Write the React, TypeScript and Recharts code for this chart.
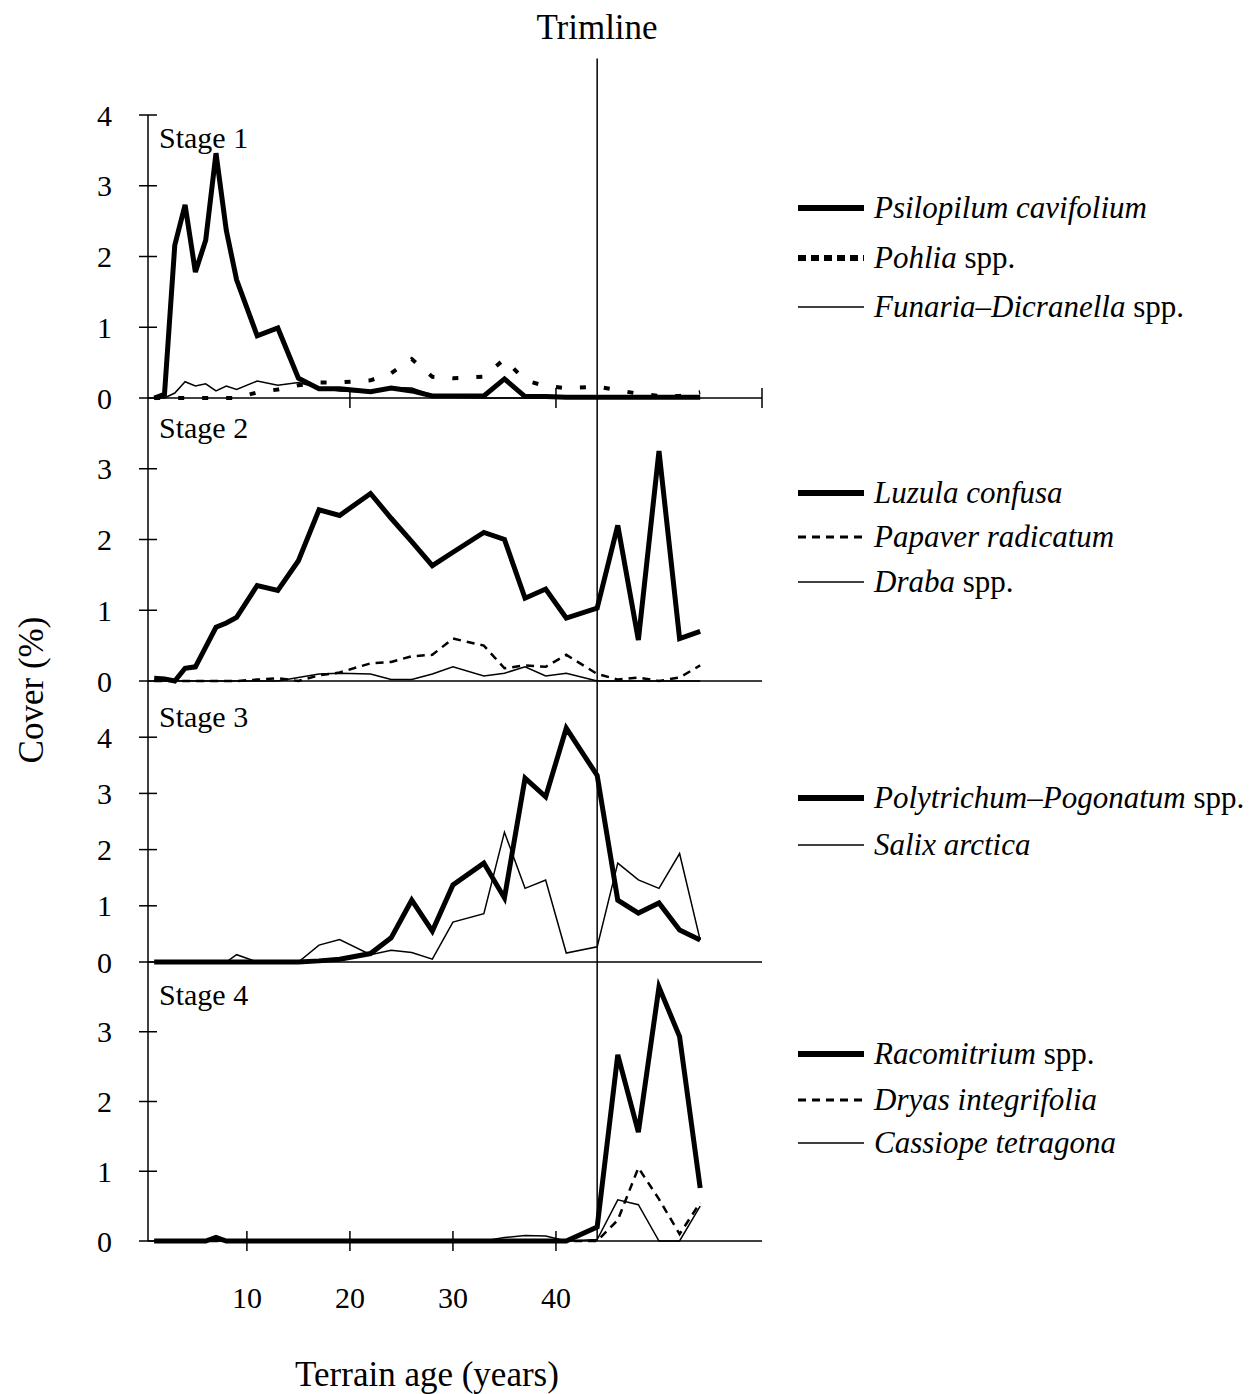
import React from "react";
import { LineChart, Line, XAxis, YAxis, ReferenceLine } from "recharts";

// terrain age of each sampled plot (years)
const ages = [1, 2, 3, 4, 5, 6, 7, 8, 9, 11, 13, 15, 17, 19, 22, 24, 26, 28, 30, 33, 35, 37, 39, 41, 44, 46, 48, 50, 52, 54];

// Stage 1
const psilopilum = [0, 0.05, 2.16, 2.73, 1.78, 2.23, 3.46, 2.37, 1.67, 0.88, 0.99, 0.28, 0.13, 0.13, 0.09, 0.14, 0.1, 0.03, 0.03, 0.03, 0.27, 0.02, 0.02, 0.01, 0.01, 0.01, 0.01, 0.01, 0.01, 0.01];
const pohlia = [0, 0, 0, 0, 0, 0, 0, 0, 0, 0.08, 0.12, 0.18, 0.22, 0.22, 0.25, 0.35, 0.55, 0.3, 0.28, 0.3, 0.55, 0.25, 0.17, 0.14, 0.16, 0.11, 0.06, 0.03, 0.03, 0.08];
const funaria = [0, 0, 0.07, 0.23, 0.17, 0.2, 0.1, 0.17, 0.12, 0.24, 0.18, 0.22, 0.14, 0.1, 0.08, 0.15, 0.14, 0.04, 0.01, 0, 0, 0, 0, 0, 0, 0, 0, 0, 0, 0];

// Stage 2
const luzula = [0.04, 0.03, 0, 0.18, 0.2, 0.48, 0.76, 0.82, 0.9, 1.35, 1.28, 1.7, 2.42, 2.34, 2.65, 2.3, 1.97, 1.63, 1.82, 2.1, 2.0, 1.17, 1.3, 0.89, 1.03, 2.2, 0.58, 3.25, 0.6, 0.7];
const papaver = [0, 0, 0, 0, 0, 0, 0, 0, 0, 0.02, 0.04, 0, 0.08, 0.12, 0.25, 0.27, 0.35, 0.37, 0.6, 0.5, 0.18, 0.22, 0.2, 0.37, 0.1, 0.02, 0.05, 0, 0.05, 0.22];
const draba = [0, 0, 0, 0, 0, 0, 0, 0, 0, 0, 0, 0.05, 0.1, 0.11, 0.1, 0.02, 0.02, 0.1, 0.2, 0.07, 0.11, 0.2, 0.07, 0.11, 0, 0, 0, 0, 0, 0];

// Stage 3
const polytrichum = [0, 0, 0, 0, 0, 0, 0, 0, 0, 0, 0, 0, 0.02, 0.05, 0.15, 0.43, 1.1, 0.55, 1.37, 1.76, 1.14, 3.27, 2.94, 4.16, 3.32, 1.1, 0.87, 1.05, 0.57, 0.39];
const salix = [0, 0, 0, 0, 0, 0, 0, 0, 0.13, 0, 0, 0, 0.3, 0.4, 0.13, 0.21, 0.17, 0.05, 0.71, 0.86, 2.31, 1.31, 1.46, 0.16, 0.27, 1.76, 1.46, 1.31, 1.93, 0.39];

// Stage 4
const racomitrium = [0, 0, 0, 0, 0, 0, 0.05, 0, 0, 0, 0, 0, 0, 0, 0, 0, 0, 0, 0, 0, 0, 0, 0, 0, 0.2, 2.67, 1.56, 3.64, 2.93, 0.76];
const dryas = [0, 0, 0, 0, 0, 0, 0, 0, 0, 0, 0, 0, 0, 0, 0, 0, 0, 0, 0, 0, 0, 0, 0, 0, 0, 0.3, 1.05, 0.6, 0.1, 0.55];
const cassiope = [0, 0, 0, 0, 0, 0, 0, 0, 0, 0, 0, 0, 0, 0, 0, 0, 0, 0, 0, 0, 0.05, 0.08, 0.07, 0, 0.02, 0.59, 0.52, 0, 0, 0.5];

const TRIMLINE_AGE = 44;

const FONT = '"Liberation Serif", "Times New Roman", "DejaVu Serif", serif';
const AXIS_LEFT = 148;
const CHART_W = 800;
const PLOT_RIGHT = 762;

const toRows = (series: Record<string, number[]>) =>
  ages.map((age, i) => {
    const row: Record<string, number> = { age };
    Object.keys(series).forEach((k) => (row[k] = series[k][i]));
    return row;
  });

type Style = { width: number; dash?: string; legendWidth?: number; legendDash?: string };
const thick: Style = { width: 5, legendWidth: 6 };
const thin: Style = { width: 1.5, legendWidth: 1.5 };
const dotted: Style = { width: 4, dash: "6 18", legendWidth: 6, legendDash: "8 5" };
const dashed: Style = { width: 2.5, dash: "8 6", legendWidth: 3, legendDash: "8 6" };

type Series = { key: string; name: string; tail: string; style: Style };

const panels = [
  {
    stage: "Stage 1",
    data: toRows({ psilopilum, pohlia, funaria }),
    series: [
      { key: "psilopilum", name: "Psilopilum cavifolium", tail: "", style: thick },
      { key: "pohlia", name: "Pohlia", tail: " spp.", style: dotted },
      { key: "funaria", name: "Funaria–Dicranella", tail: " spp.", style: thin },
    ] as Series[],
    top: 115, bottom: 398, yMax: 4, yTicks: [0, 1, 2, 3, 4],
    xTicks: [20, 40, 60], xLabels: false, mTop: 110, xH: 20,
    stageY: 138, legendY: [208, 258, 307],
  },
  {
    stage: "Stage 2",
    data: toRows({ luzula, papaver, draba }),
    series: [
      { key: "luzula", name: "Luzula confusa", tail: "", style: thick },
      { key: "papaver", name: "Papaver radicatum", tail: "", style: dashed },
      { key: "draba", name: "Draba", tail: " spp.", style: thin },
    ] as Series[],
    top: 398, bottom: 681, yMax: 4, yTicks: [0, 1, 2, 3],
    xTicks: [] as number[], xLabels: false, mTop: 20, xH: 20,
    stageY: 428, legendY: [493, 537, 582],
  },
  {
    stage: "Stage 3",
    data: toRows({ polytrichum, salix }),
    series: [
      { key: "polytrichum", name: "Polytrichum–Pogonatum", tail: " spp.", style: thick },
      { key: "salix", name: "Salix arctica", tail: "", style: thin },
    ] as Series[],
    top: 681, bottom: 962, yMax: 5, yTicks: [0, 1, 2, 3, 4],
    xTicks: [] as number[], xLabels: false, mTop: 20, xH: 20,
    stageY: 717, legendY: [798, 845],
  },
  {
    stage: "Stage 4",
    data: toRows({ racomitrium, dryas, cassiope }),
    series: [
      { key: "racomitrium", name: "Racomitrium", tail: " spp.", style: thick },
      { key: "dryas", name: "Dryas integrifolia", tail: "", style: dashed },
      { key: "cassiope", name: "Cassiope tetragona", tail: "", style: thin },
    ] as Series[],
    top: 962, bottom: 1241, yMax: 4, yTicks: [0, 1, 2, 3],
    xTicks: [10, 20, 30, 40], xLabels: true, mTop: 20, xH: 90,
    stageY: 995, legendY: [1054, 1100, 1143],
  },
];

const YTick = (props: any) => {
  const { x, y, payload } = props;
  return (
    <g>
      <line x1={x - 9} x2={x + 9} y1={y} y2={y} stroke="#000" strokeWidth={1.5} />
      <text x={x - 36} y={y} textAnchor="end" dominantBaseline="central" fontFamily={FONT} fontSize={30} fill="#000">
        {payload.value}
      </text>
    </g>
  );
};

const makeXTick = (withLabel: boolean) => (props: any) => {
  const { x, y, payload } = props;
  return (
    <g>
      <line x1={x} x2={x} y1={y - 10} y2={y + 10} stroke="#000" strokeWidth={1.5} />
      {withLabel && (
        <text x={x} y={y + 56} textAnchor="middle" dominantBaseline="central" fontFamily={FONT} fontSize={30} fill="#000">
          {payload.value}
        </text>
      )}
    </g>
  );
};

const LegendRow = ({ s, y }: { s: Series; y: number }) => (
  <div style={{ position: "absolute", left: 798, top: y - 20, height: 40, display: "flex", alignItems: "center", whiteSpace: "nowrap" }}>
    <svg width={66} height={12} style={{ marginRight: 10 }}>
      <line x1={0} x2={66} y1={6} y2={6} stroke="#000" strokeWidth={s.style.legendWidth} strokeDasharray={s.style.legendDash} />
    </svg>
    <span style={{ fontFamily: FONT, fontSize: 31, lineHeight: "40px" }}>
      <i>{s.name}</i>
      {s.tail}
    </span>
  </div>
);

export default function App() {
  return (
    <div style={{ position: "relative", width: 1257, height: 1394, background: "#fff", overflow: "hidden" }}>
      <style>{`body{margin:0;background:#fff}`}</style>

      {panels.map((p, idx) => {
        const plotH = p.bottom - p.top;
        return (
          <div key={p.stage} style={{ position: "absolute", left: 0, top: p.top - p.mTop }}>
            <LineChart
              width={CHART_W}
              height={plotH + p.mTop + p.xH}
              data={p.data}
              margin={{ top: p.mTop, right: CHART_W - PLOT_RIGHT, bottom: 0, left: 0 }}
            >
              <XAxis
                dataKey="age"
                type="number"
                domain={[0.4, 60]}
                ticks={p.xTicks}
                interval={0}
                tick={p.xTicks.length ? makeXTick(p.xLabels) : false}
                tickLine={false}
                tickSize={0}
                tickMargin={0}
                height={p.xH}
                axisLine={{ stroke: "#000", strokeWidth: 1.5 }}
              />
              <YAxis
                type="number"
                domain={[0, p.yMax]}
                ticks={p.yTicks}
                tick={YTick}
                tickLine={false}
                tickSize={0}
                tickMargin={0}
                width={AXIS_LEFT}
                axisLine={{ stroke: "#000", strokeWidth: 1.5 }}
              />
              {idx === 0 ? (
                <ReferenceLine
                  segment={[{ x: TRIMLINE_AGE, y: 0 }, { x: TRIMLINE_AGE, y: 4.8 }]}
                  ifOverflow="visible"
                  stroke="#000"
                  strokeWidth={1.5}
                />
              ) : (
                <ReferenceLine x={TRIMLINE_AGE} stroke="#000" strokeWidth={1.5} />
              )}
              {p.series
                .slice()
                .reverse()
                .map((s) => (
                  <Line
                    key={s.key}
                    dataKey={s.key}
                    type="linear"
                    stroke="#000"
                    strokeWidth={s.style.width}
                    strokeDasharray={s.style.dash}
                    dot={false}
                    activeDot={false}
                    isAnimationActive={false}
                  />
                ))}
            </LineChart>
          </div>
        );
      })}

      {panels.map((p) => (
        <div
          key={p.stage + "-label"}
          style={{ position: "absolute", left: 159, top: p.stageY - 20, height: 40, lineHeight: "40px", fontFamily: FONT, fontSize: 30 }}
        >
          {p.stage}
        </div>
      ))}

      {panels.map((p) => p.series.map((s, i) => <LegendRow key={s.key} s={s} y={p.legendY[i]} />))}

      <div style={{ position: "absolute", left: 497, width: 200, top: 8, textAlign: "center", fontFamily: FONT, fontSize: 35, lineHeight: "40px" }}>
        Trimline
      </div>
      <div
        style={{
          position: "absolute",
          left: 32 - 150,
          top: 690 - 20,
          width: 300,
          height: 40,
          lineHeight: "40px",
          textAlign: "center",
          fontFamily: FONT,
          fontSize: 35,
          transform: "rotate(-90deg)",
        }}
      >
        Cover (%)
      </div>
      <div style={{ position: "absolute", left: 227, width: 400, top: 1355, textAlign: "center", fontFamily: FONT, fontSize: 35, lineHeight: "40px" }}>
        Terrain age (years)
      </div>
    </div>
  );
}
